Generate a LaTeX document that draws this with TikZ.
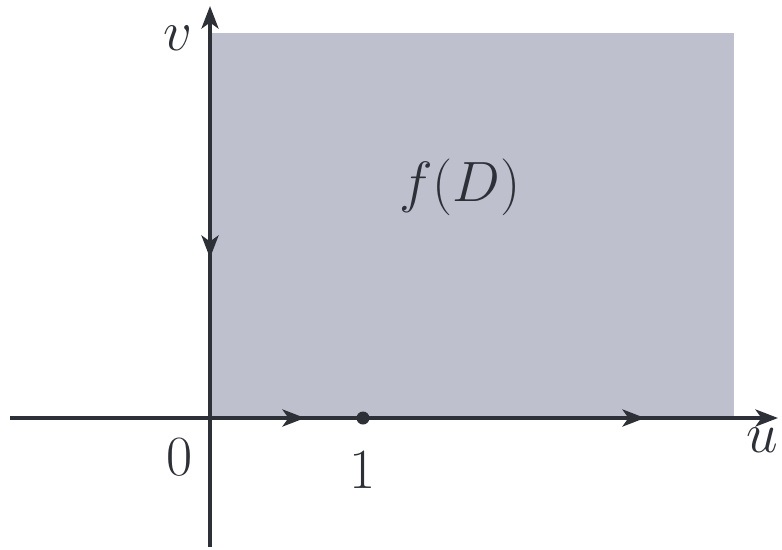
\documentclass[tikz,border=0pt]{standalone}
\usepackage{amsmath,amssymb}
\usepackage{xcolor}
\usepackage{tikz}
\usetikzlibrary{arrows.meta,positioning,calc}
\definecolor{Axis}{RGB}{45,48,55}
\definecolor{Shade}{RGB}{190,192,206}

\begin{document}
\begin{tikzpicture}[x=0.02cm, y=-0.02cm,
    axis/.style={line width=2.2pt, Axis},
    tip/.style={-{Stealth[length=4.5mm, width=3.4mm, inset=1.2mm]}},
    lbl/.style={Axis, font=\Huge, scale=1.3}]
    \useasboundingbox (0,0) rectangle (782,549);
    \coordinate (O) at (210,418);
    \fill[Shade] (210,33) rectangle (734,416);
    % axes
    \draw[axis, tip] (10,418) -- (778,418);
    \draw[axis, tip] (210,547) -- (210,6);
    % direction marks on the boundary
    \draw[axis, tip] (O) -- (305,418);
    \draw[axis, tip] (O) -- (645,418);
    \draw[axis, tip] (210,33) -- (210,258);
    \fill[Axis] (363,418) circle (6.5);
    \node[lbl] (v) at (178,38) {$v$};
    \node[lbl] (u) at (762,440) {$u$};
    \node[lbl] (zero) at (180,457) {$0$};
    \node[lbl] (one) at (363,470) {$1$};
    \node[lbl] (fD) at (460,187) {$f(D)$};
  \end{tikzpicture}
\end{document}
